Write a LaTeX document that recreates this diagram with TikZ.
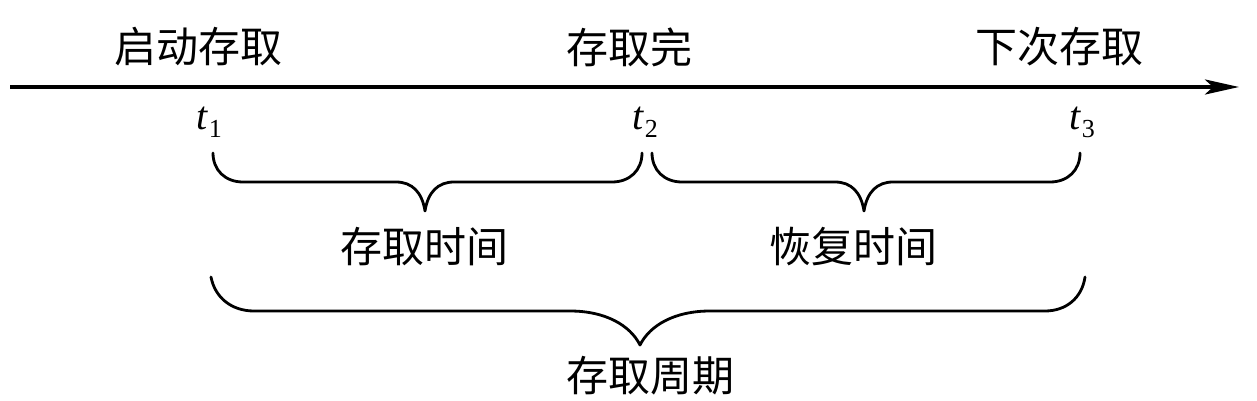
\documentclass[tikz,border=0pt]{standalone}
\usepackage{fontspec}
\setmainfont{Liberation Serif}
\newfontfamily\cjk{Noto Sans CJK SC}
\usetikzlibrary{arrows.meta}
\begin{document}
\begin{tikzpicture}[x=0.5pt,y=-0.5pt,
  lbl/.style={font=\cjk\fontsize{21pt}{21pt}\selectfont, inner sep=0pt},
  tlbl/.style={font=\fontsize{20pt}{20pt}\selectfont, inner sep=0pt},
  axis/.style={line width=2pt, -{Stealth[length=17pt,width=7.5pt,inset=4pt]}},
  br/.style={line width=1.4pt, line cap=round, line join=round}]
\useasboundingbox (0,0) rectangle (1257,401);
% axis
\coordinate (L) at (10,87);
\coordinate (R) at (1239,87);
\draw[axis] (L) -- (R);
% top labels
\node[lbl] (start) at (198,47) {启动存取};
\node[lbl] (done) at (629,47) {存取完};
\node[lbl] (next) at (1059,47) {下次存取};
% time labels
\newcommand\tsub[1]{\textit{t}\kern0.5pt{\fontsize{13pt}{13pt}\selectfont\raisebox{-4pt}{#1}}}
\node[tlbl] (t1) at (209,122) {\tsub{1}};
\node[tlbl] (t2) at (645,122) {\tsub{2}};
\node[tlbl] (t3) at (1082,122) {\tsub{3}};
% brace 1
\coordinate (b1s) at (213,153);
\coordinate (b1t) at (425,211);
\coordinate (b1e) at (642,153);
\draw[br] (b1s) .. controls (213,170) and (225,182) .. (243,182) -- (396,182)
  .. controls (412,182) and (422,192) .. (b1t)
  .. controls (428,192) and (438,182) .. (454,182) -- (612,182)
  .. controls (630,182) and (642,170) .. (b1e);
% brace 2
\coordinate (b2s) at (652,153);
\coordinate (b2t) at (864,211);
\coordinate (b2e) at (1080,153);
\draw[br] (b2s) .. controls (652,170) and (664,182) .. (682,182) -- (835,182)
  .. controls (851,182) and (861,192) .. (b2t)
  .. controls (867,192) and (877,182) .. (893,182) -- (1050,182)
  .. controls (1068,182) and (1080,170) .. (b2e);
% big brace
\coordinate (b3s) at (211,277);
\coordinate (b3t) at (640,345);
\coordinate (b3e) at (1085,277);
\draw[br] (b3s) .. controls (215,298) and (232,311) .. (254,311) -- (570,311)
  .. controls (605,311) and (630,325) .. (b3t)
  .. controls (650,325) and (675,311) .. (710,311) -- (1045,311)
  .. controls (1066,311) and (1082,298) .. (b3e);
% brace labels
\node[lbl] (acc) at (424,247) {存取时间};
\node[lbl] (rec) at (853,247) {恢复时间};
\node[lbl] (cyc) at (650,376) {存取周期};
\end{tikzpicture}
\end{document}
